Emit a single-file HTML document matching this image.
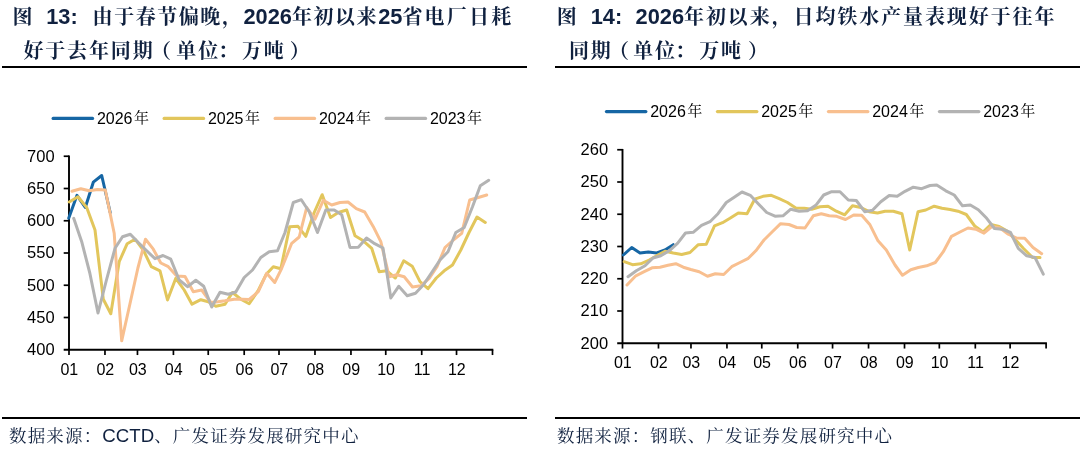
<!DOCTYPE html>
<html lang="zh-CN"><head><meta charset="utf-8"><title>chart</title>
<style>
html,body{margin:0;padding:0;background:#fff}
body{width:1080px;height:456px;position:relative;overflow:hidden;font-family:"Liberation Sans","Noto Serif CJK SC",serif}
.t{position:absolute;color:#10213f;font-weight:700;font-size:20px;letter-spacing:1.7px;line-height:34px;white-space:pre;top:0}
.t span{display:block;height:34px}
.t b{font-weight:bold;font-size:21.8px;letter-spacing:0}
.t i{font-style:normal;letter-spacing:2.2px}
.t em{font-style:normal;position:relative}
.rule{position:absolute;height:2px;background:#000;top:65.6px}
.brule{position:absolute;height:2px;background:#000;top:417px}
.src{position:absolute;top:424px;font-size:17.5px;letter-spacing:1.17px;line-height:24px;color:#10213f;white-space:pre}
.src b{font-weight:normal;font-size:18.67px;letter-spacing:0}
svg .k{font-family:"Noto Serif CJK SC","Noto Sans CJK SC",serif;font-size:15px}
</style></head><body>
<div class="t" style="left:12.5px"><span style="letter-spacing:1.55px">图<b>  13:</b><b style="letter-spacing:1.4px">  </b>由于春节偏晚，<b>2026</b>年初以来<b>25</b><i>省电厂日耗</i></span><span style="margin-left:10.9px;letter-spacing:1.85px">好于去年同期<em style="left:-3.5px">（</em>单位<em style="left:-2px">：</em>万吨<em style="left:4px">）</em></span></div>
<div class="t" style="left:556.7px"><span style="letter-spacing:1.9px">图<b>  14:</b><b style="letter-spacing:.6px">  </b><b>2026</b>年初以来，日均铁水产量表现好于往年</span><span style="margin-left:12.3px">同期<em style="left:-3.5px">（</em><em style="left:-.8px">单位</em><em style="left:-2.5px">：</em>万吨<em style="left:5.5px">）</em></span></div>
<div class="rule" style="left:2px;width:525px"></div>
<div class="rule" style="left:555px;width:525px"></div>
<div class="brule" style="left:2px;width:525px"></div>
<div class="brule" style="left:555px;width:525px"></div>
<div class="src" style="left:9px">数据来源：<b>CCTD</b>、广发证券发展研究中心</div>
<div class="src" style="left:557px">数据来源：钢联、广发证券发展研究中心</div>
<svg width="1080" height="456" viewBox="0 0 1080 456" style="position:absolute;left:0;top:0">
<g font-family="'Liberation Sans','Noto Serif CJK SC',sans-serif" font-size="16" fill="#000">
<path d="M53.1 118.4H92.6" stroke="#1666a4" stroke-width="3.1" stroke-linecap="round" fill="none"/>
<text x="96.9" y="124.0">2026<tspan class="k" dx="1.5" dy="-0.8">年</tspan></text>
<path d="M164.1 118.4H203.6" stroke="#e2c65c" stroke-width="3.1" stroke-linecap="round" fill="none"/>
<text x="207.9" y="124.0">2025<tspan class="k" dx="1.5" dy="-0.8">年</tspan></text>
<path d="M275.1 118.4H314.6" stroke="#f8bf8f" stroke-width="3.1" stroke-linecap="round" fill="none"/>
<text x="318.9" y="124.0">2024<tspan class="k" dx="1.5" dy="-0.8">年</tspan></text>
<path d="M386.1 118.4H425.6" stroke="#b3b3b3" stroke-width="3.1" stroke-linecap="round" fill="none"/>
<text x="429.9" y="124.0">2023<tspan class="k" dx="1.5" dy="-0.8">年</tspan></text>
<path d="M69.00 155.45V350.55" stroke="#000" stroke-width="1.9" fill="none"/>
<path d="M63.70 349.75H493.30" stroke="#000" stroke-width="1.9" fill="none"/>
<path d="M63.70 156.25H69.00" stroke="#000" stroke-width="1.7" fill="none"/>
<text x="54.6" y="161.6" text-anchor="end" font-size="16.5">700</text>
<path d="M63.70 188.50H69.00" stroke="#000" stroke-width="1.7" fill="none"/>
<text x="54.6" y="193.8" text-anchor="end" font-size="16.5">650</text>
<path d="M63.70 220.75H69.00" stroke="#000" stroke-width="1.7" fill="none"/>
<text x="54.6" y="226.1" text-anchor="end" font-size="16.5">600</text>
<path d="M63.70 253.00H69.00" stroke="#000" stroke-width="1.7" fill="none"/>
<text x="54.6" y="258.3" text-anchor="end" font-size="16.5">550</text>
<path d="M63.70 285.25H69.00" stroke="#000" stroke-width="1.7" fill="none"/>
<text x="54.6" y="290.6" text-anchor="end" font-size="16.5">500</text>
<path d="M63.70 317.50H69.00" stroke="#000" stroke-width="1.7" fill="none"/>
<text x="54.6" y="322.8" text-anchor="end" font-size="16.5">450</text>
<text x="54.6" y="355.1" text-anchor="end" font-size="16.5">400</text>
<path d="M69.00 349.75V355.05" stroke="#000" stroke-width="1.7" fill="none"/>
<text x="69.3" y="374.9" text-anchor="middle">01</text>
<path d="M104.97 349.75V355.05" stroke="#000" stroke-width="1.7" fill="none"/>
<text x="105.3" y="374.9" text-anchor="middle">02</text>
<path d="M137.46 349.75V355.05" stroke="#000" stroke-width="1.7" fill="none"/>
<text x="137.8" y="374.9" text-anchor="middle">03</text>
<path d="M173.42 349.75V355.05" stroke="#000" stroke-width="1.7" fill="none"/>
<text x="173.7" y="374.9" text-anchor="middle">04</text>
<path d="M208.23 349.75V355.05" stroke="#000" stroke-width="1.7" fill="none"/>
<text x="208.5" y="374.9" text-anchor="middle">05</text>
<path d="M244.20 349.75V355.05" stroke="#000" stroke-width="1.7" fill="none"/>
<text x="244.5" y="374.9" text-anchor="middle">06</text>
<path d="M279.01 349.75V355.05" stroke="#000" stroke-width="1.7" fill="none"/>
<text x="279.3" y="374.9" text-anchor="middle">07</text>
<path d="M314.98 349.75V355.05" stroke="#000" stroke-width="1.7" fill="none"/>
<text x="315.3" y="374.9" text-anchor="middle">08</text>
<path d="M350.95 349.75V355.05" stroke="#000" stroke-width="1.7" fill="none"/>
<text x="351.2" y="374.9" text-anchor="middle">09</text>
<path d="M385.75 349.75V355.05" stroke="#000" stroke-width="1.7" fill="none"/>
<text x="386.1" y="374.9" text-anchor="middle">10</text>
<path d="M421.72 349.75V355.05" stroke="#000" stroke-width="1.7" fill="none"/>
<text x="422.0" y="374.9" text-anchor="middle">11</text>
<path d="M456.53 349.75V355.05" stroke="#000" stroke-width="1.7" fill="none"/>
<text x="456.8" y="374.9" text-anchor="middle">12</text>
<path d="M492.50 349.75V355.05" stroke="#000" stroke-width="1.7" fill="none"/>
<polyline fill="none" stroke="#1666a4" stroke-width="3" stroke-linejoin="round" stroke-linecap="round" points="68.7,218.3 77.0,195.3 85.3,207.5 93.3,182.2 101.7,175.5 110.2,212.5"/>
<polyline fill="none" stroke="#e2c65c" stroke-width="3" stroke-linejoin="round" stroke-linecap="round" points="69.2,202.0 78.0,196.7 86.7,207.5 95.0,230.0 103.3,299.2 110.8,313.7 119.2,261.7 127.2,243.7 135.0,239.2 143.3,250.0 151.3,266.7 160.0,270.8 167.5,300.0 175.8,278.3 184.2,290.0 192.0,304.2 200.8,299.7 208.3,301.7 215.8,306.3 225.0,304.2 232.5,292.5 240.8,299.2 249.2,303.7 258.0,290.8 266.3,274.2 273.3,266.7 280.8,268.7 289.7,226.7 298.0,226.3 305.8,236.3 314.2,212.5 322.2,194.7 330.5,217.5 338.3,212.5 346.7,210.0 355.0,235.8 363.3,240.8 371.7,248.3 379.2,271.7 386.7,270.8 395.3,278.0 403.7,260.8 412.2,266.2 420.0,281.7 428.0,288.7 436.3,278.0 444.2,270.8 452.5,265.0 460.8,250.0 469.0,232.5 477.0,217.0 485.3,222.5"/>
<polyline fill="none" stroke="#f8bf8f" stroke-width="3" stroke-linejoin="round" stroke-linecap="round" points="72.0,191.3 80.8,188.7 89.2,190.8 97.5,189.5 105.3,190.0 114.2,233.3 121.7,340.8 129.8,304.5 137.9,268.0 145.5,239.2 153.3,249.2 160.8,263.0 168.3,266.7 176.7,276.0 185.0,276.5 193.3,291.7 201.7,290.0 210.8,302.5 218.0,301.8 225.0,300.8 234.2,299.2 242.0,299.3 249.2,299.5 258.3,291.7 266.7,273.3 274.7,282.5 281.7,268.3 291.7,243.3 299.2,237.0 306.7,207.5 315.0,219.2 323.3,200.3 331.7,205.0 340.0,202.5 348.0,202.0 356.3,208.7 364.7,212.0 373.3,226.7 380.8,241.7 389.2,276.7 396.7,274.7 404.2,276.7 412.5,287.0 420.8,285.8 429.2,278.3 437.0,266.7 445.0,247.5 453.3,240.0 461.7,233.3 469.7,200.0 478.3,197.5 486.7,195.0"/>
<polyline fill="none" stroke="#b3b3b3" stroke-width="3" stroke-linejoin="round" stroke-linecap="round" points="73.7,218.3 81.7,241.7 89.8,273.0 98.0,313.0 106.2,281.0 115.0,248.3 122.5,236.7 130.3,234.2 138.3,242.5 146.7,250.8 155.0,258.7 163.0,255.5 170.8,259.2 179.2,280.0 187.5,286.7 195.8,280.3 203.7,286.3 211.7,307.0 220.0,292.2 228.3,294.2 235.8,292.0 244.2,277.5 252.5,270.0 260.8,257.5 269.2,251.7 277.5,250.8 285.0,232.5 293.3,202.5 301.3,199.7 309.2,211.7 317.5,232.5 325.8,210.0 334.2,210.0 341.7,214.7 350.0,247.5 358.3,247.2 366.5,238.0 374.7,243.7 383.0,248.0 390.8,298.0 398.7,286.3 407.2,295.8 415.5,293.3 423.3,285.0 431.7,272.5 440.0,260.0 448.0,251.7 455.8,232.5 464.2,227.5 472.5,206.7 480.3,185.8 488.7,180.3"/>
<path d="M606.4 111.6H645.9" stroke="#1666a4" stroke-width="3.1" stroke-linecap="round" fill="none"/>
<text x="650.2" y="117.2">2026<tspan class="k" dx="1.5" dy="-0.8">年</tspan></text>
<path d="M717.4 111.6H756.9" stroke="#e2c65c" stroke-width="3.1" stroke-linecap="round" fill="none"/>
<text x="761.2" y="117.2">2025<tspan class="k" dx="1.5" dy="-0.8">年</tspan></text>
<path d="M828.4 111.6H867.9" stroke="#f8bf8f" stroke-width="3.1" stroke-linecap="round" fill="none"/>
<text x="872.2" y="117.2">2024<tspan class="k" dx="1.5" dy="-0.8">年</tspan></text>
<path d="M939.4 111.6H978.9" stroke="#b3b3b3" stroke-width="3.1" stroke-linecap="round" fill="none"/>
<text x="983.2" y="117.2">2023<tspan class="k" dx="1.5" dy="-0.8">年</tspan></text>
<path d="M622.50 148.95V344.05" stroke="#000" stroke-width="1.9" fill="none"/>
<path d="M617.20 343.25H1046.90" stroke="#000" stroke-width="1.9" fill="none"/>
<path d="M617.20 149.75H622.50" stroke="#000" stroke-width="1.7" fill="none"/>
<text x="608.1" y="155.1" text-anchor="end" font-size="16.5">260</text>
<path d="M617.20 182.00H622.50" stroke="#000" stroke-width="1.7" fill="none"/>
<text x="608.1" y="187.3" text-anchor="end" font-size="16.5">250</text>
<path d="M617.20 214.25H622.50" stroke="#000" stroke-width="1.7" fill="none"/>
<text x="608.1" y="219.6" text-anchor="end" font-size="16.5">240</text>
<path d="M617.20 246.50H622.50" stroke="#000" stroke-width="1.7" fill="none"/>
<text x="608.1" y="251.8" text-anchor="end" font-size="16.5">230</text>
<path d="M617.20 278.75H622.50" stroke="#000" stroke-width="1.7" fill="none"/>
<text x="608.1" y="284.1" text-anchor="end" font-size="16.5">220</text>
<path d="M617.20 311.00H622.50" stroke="#000" stroke-width="1.7" fill="none"/>
<text x="608.1" y="316.3" text-anchor="end" font-size="16.5">210</text>
<text x="608.1" y="348.6" text-anchor="end" font-size="16.5">200</text>
<path d="M622.50 343.25V348.55" stroke="#000" stroke-width="1.7" fill="none"/>
<text x="622.8" y="368.4" text-anchor="middle">01</text>
<path d="M658.48 343.25V348.55" stroke="#000" stroke-width="1.7" fill="none"/>
<text x="658.8" y="368.4" text-anchor="middle">02</text>
<path d="M690.97 343.25V348.55" stroke="#000" stroke-width="1.7" fill="none"/>
<text x="691.3" y="368.4" text-anchor="middle">03</text>
<path d="M726.95 343.25V348.55" stroke="#000" stroke-width="1.7" fill="none"/>
<text x="727.2" y="368.4" text-anchor="middle">04</text>
<path d="M761.77 343.25V348.55" stroke="#000" stroke-width="1.7" fill="none"/>
<text x="762.1" y="368.4" text-anchor="middle">05</text>
<path d="M797.74 343.25V348.55" stroke="#000" stroke-width="1.7" fill="none"/>
<text x="798.0" y="368.4" text-anchor="middle">06</text>
<path d="M832.56 343.25V348.55" stroke="#000" stroke-width="1.7" fill="none"/>
<text x="832.9" y="368.4" text-anchor="middle">07</text>
<path d="M868.54 343.25V348.55" stroke="#000" stroke-width="1.7" fill="none"/>
<text x="868.8" y="368.4" text-anchor="middle">08</text>
<path d="M904.51 343.25V348.55" stroke="#000" stroke-width="1.7" fill="none"/>
<text x="904.8" y="368.4" text-anchor="middle">09</text>
<path d="M939.33 343.25V348.55" stroke="#000" stroke-width="1.7" fill="none"/>
<text x="939.6" y="368.4" text-anchor="middle">10</text>
<path d="M975.31 343.25V348.55" stroke="#000" stroke-width="1.7" fill="none"/>
<text x="975.6" y="368.4" text-anchor="middle">11</text>
<path d="M1010.12 343.25V348.55" stroke="#000" stroke-width="1.7" fill="none"/>
<text x="1010.4" y="368.4" text-anchor="middle">12</text>
<path d="M1046.10 343.25V348.55" stroke="#000" stroke-width="1.7" fill="none"/>
<polyline fill="none" stroke="#1666a4" stroke-width="3" stroke-linejoin="round" stroke-linecap="round" points="623.3,255.0 631.7,247.5 640.0,253.0 648.3,252.0 656.7,253.0 665.0,250.0 673.3,244.7"/>
<polyline fill="none" stroke="#e2c65c" stroke-width="3" stroke-linejoin="round" stroke-linecap="round" points="624.2,261.7 632.5,264.7 640.8,263.8 649.2,260.0 657.5,255.3 665.0,251.2 673.3,253.0 681.7,254.5 690.0,252.5 698.3,244.7 706.3,244.2 714.5,225.8 722.5,222.7 730.0,218.3 738.3,213.0 747.0,213.8 754.7,199.2 763.0,196.3 771.3,195.3 779.2,198.7 787.5,202.5 795.8,208.0 804.2,208.3 811.7,209.2 820.0,206.7 828.0,206.2 836.3,211.2 844.7,214.8 852.5,205.8 860.8,207.5 869.2,211.7 877.5,213.0 885.0,211.3 893.3,211.2 902.0,213.7 909.7,250.0 918.0,211.7 925.8,210.0 934.2,206.2 942.0,208.3 950.0,209.5 958.0,211.2 966.3,214.5 974.7,226.0 983.0,232.0 990.8,224.5 999.2,226.5 1006.7,230.8 1015.0,239.2 1023.5,248.5 1032.5,257.5 1040.0,257.5"/>
<polyline fill="none" stroke="#f8bf8f" stroke-width="3" stroke-linejoin="round" stroke-linecap="round" points="627.0,285.0 635.8,275.8 644.2,271.7 652.0,267.8 660.0,267.2 668.0,265.3 675.8,263.7 683.3,267.2 690.8,269.5 699.2,271.7 707.5,276.2 715.3,273.7 723.7,274.5 731.7,266.7 740.0,262.5 748.3,258.3 755.8,250.8 764.0,240.0 772.3,231.7 780.6,223.7 789.0,224.5 796.7,227.5 805.0,228.0 813.3,215.8 821.3,213.8 829.2,215.8 836.7,216.3 845.5,219.5 853.7,215.0 861.7,215.3 870.0,224.8 878.0,240.8 886.3,250.0 895.0,265.0 902.5,275.3 910.8,269.7 918.3,267.5 926.7,265.8 935.3,262.5 943.3,251.7 951.5,236.3 960.0,232.0 968.0,228.0 975.8,229.2 984.0,233.2 991.8,226.5 1000.0,228.0 1008.3,234.2 1016.5,238.0 1024.7,238.3 1033.0,247.5 1041.7,253.7"/>
<polyline fill="none" stroke="#b3b3b3" stroke-width="3" stroke-linejoin="round" stroke-linecap="round" points="628.0,276.7 636.3,270.8 645.0,265.8 653.0,258.0 660.8,255.8 669.2,250.8 677.5,243.3 685.5,233.0 693.2,232.3 701.5,225.4 710.0,221.7 718.0,213.7 726.3,202.5 734.2,197.2 742.0,192.0 750.3,195.3 758.7,204.2 766.7,212.5 775.0,216.2 783.0,215.8 790.8,209.2 799.2,211.2 807.5,210.8 815.8,205.3 823.7,195.0 831.7,191.7 840.0,191.7 848.3,200.0 856.3,200.5 864.7,211.7 872.5,210.3 880.8,201.7 889.2,195.5 897.2,196.2 905.0,191.3 913.3,187.2 921.7,188.7 930.0,185.5 936.7,185.0 945.8,190.8 954.2,195.0 962.5,205.8 970.3,205.0 978.3,209.7 986.7,218.3 994.5,228.5 1002.3,229.2 1010.5,232.5 1018.3,248.3 1026.7,255.8 1035.0,257.5 1043.3,274.2"/>
</g></svg>
</body></html>
